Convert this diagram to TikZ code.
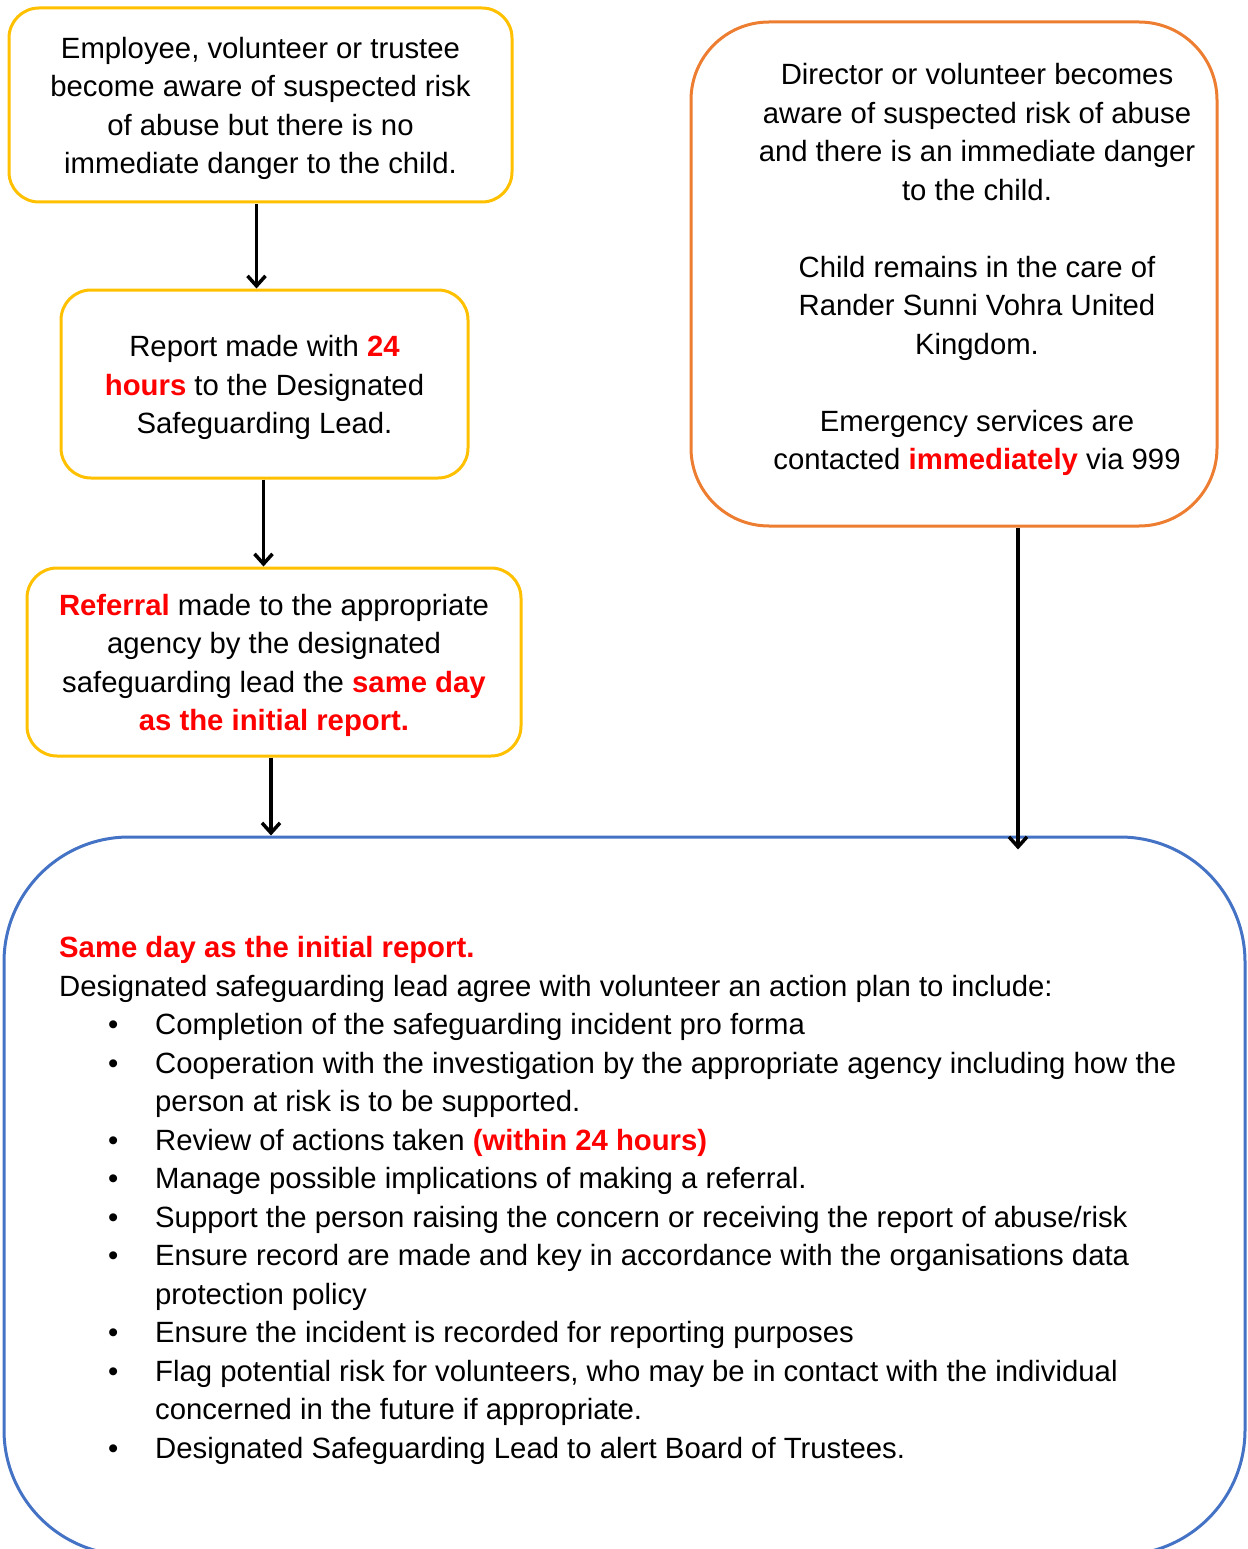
\documentclass[tikz,border=0pt]{standalone}
\usepackage{fontspec}
\setmainfont{Liberation Sans}
\usetikzlibrary{arrows.meta,positioning}
\definecolor{boxyellow}{HTML}{FFC000}
\definecolor{boxorange}{HTML}{ED7D31}
\definecolor{boxblue}{HTML}{4472C4}
\newcommand{\hl}[1]{\textcolor{red}{\bfseries #1}}
\newcommand{\bitem}{\hspace*{49pt}\makebox[47pt][l]{\textbullet}}
\newcommand{\bcont}{\hspace*{96pt}}
\newcommand{\topgap}{\rule{0pt}{28.5pt}}
\begin{document}
\begin{tikzpicture}[x=1pt,y=1pt,
    every node/.style={font=\fontsize{29.3}{38.5}\selectfont, inner sep=0pt},
    flowbox/.style={draw=boxyellow, line width=3pt, rounded corners=30pt, align=center},
    arr/.style={-{Straight Barb[length=10pt,width=18pt]}, line width=3.5pt}]
            \useasboundingbox (0,0) rectangle (1247,-1549);
            \node[flowbox, minimum width=503pt, minimum height=194pt] (empbox) at (260.5,-105)
                {\topgap Employee, volunteer or trustee\\become aware of suspected risk\\of abuse but there is no\\immediate danger to the child.};
            \node[flowbox, minimum width=407pt, minimum height=188pt] (reportbox) at (264.5,-384)
                {\topgap Report made with \hl{24}\\\hl{hours} to the Designated\\Safeguarding Lead.};
            \node[flowbox, minimum width=494pt, minimum height=188pt] (referralbox) at (274,-662)
                {\topgap\hl{Referral} made to the appropriate\\agency by the designated\\safeguarding lead the \hl{same day}\\\hl{as the initial report.}};
            \node[draw=boxorange, line width=3pt, rounded corners=78pt, minimum width=526pt, minimum height=504pt] (directorbox) at (954,-274) {};
            \node[align=center] (directortext) at (977,-269.5)
                {Director or volunteer becomes\\aware of suspected risk of abuse\\and there is an immediate danger\\to the child.\\[38.5pt]Child remains in the care of\\Rander Sunni Vohra United\\Kingdom.\\[38.5pt]Emergency services are\\contacted \hl{immediately} via 999};
            \node[draw=boxblue, line width=3pt, rounded corners=125pt, minimum width=1241pt, minimum height=718pt] (planbox) at (624.5,-1196) {};
            \node[align=left, anchor=north west] (plantext) at (59,-936.5)
                {\hl{Same day as the initial report.}\\
                 Designated safeguarding lead agree with volunteer an action plan to include:\\
                 \bitem Completion of the safeguarding incident pro forma\\
                 \bitem Cooperation with the investigation by the appropriate agency including how the\\
                 \bcont person at risk is to be supported.\\
                 \bitem Review of actions taken \hl{(within 24 hours)}\\
                 \bitem Manage possible implications of making a referral.\\
                 \bitem Support the person raising the concern or receiving the report of abuse/risk\\
                 \bitem Ensure record are made and key in accordance with the organisations data\\
                 \bcont protection policy\\
                 \bitem Ensure the incident is recorded for reporting purposes\\
                 \bitem Flag potential risk for volunteers, who may be in contact with the individual\\
                 \bcont concerned in the future if appropriate.\\
                 \bitem Designated Safeguarding Lead to alert Board of Trustees.};
            \draw[arr] ([xshift=-4pt]empbox.south) -- ([xshift=-4pt]empbox.south |- reportbox.north);
            \draw[arr] ([xshift=-1pt]reportbox.south) -- ([xshift=-1pt]reportbox.south |- referralbox.north);
            \draw[arr] ([xshift=-3pt]referralbox.south) -- ([xshift=-3pt]referralbox.south |- planbox.north);
            \draw[arr] ([xshift=64pt]directorbox.south) -- ([xshift=64pt,yshift=-14pt]directorbox.south |- planbox.north);
\end{tikzpicture}
\end{document}
